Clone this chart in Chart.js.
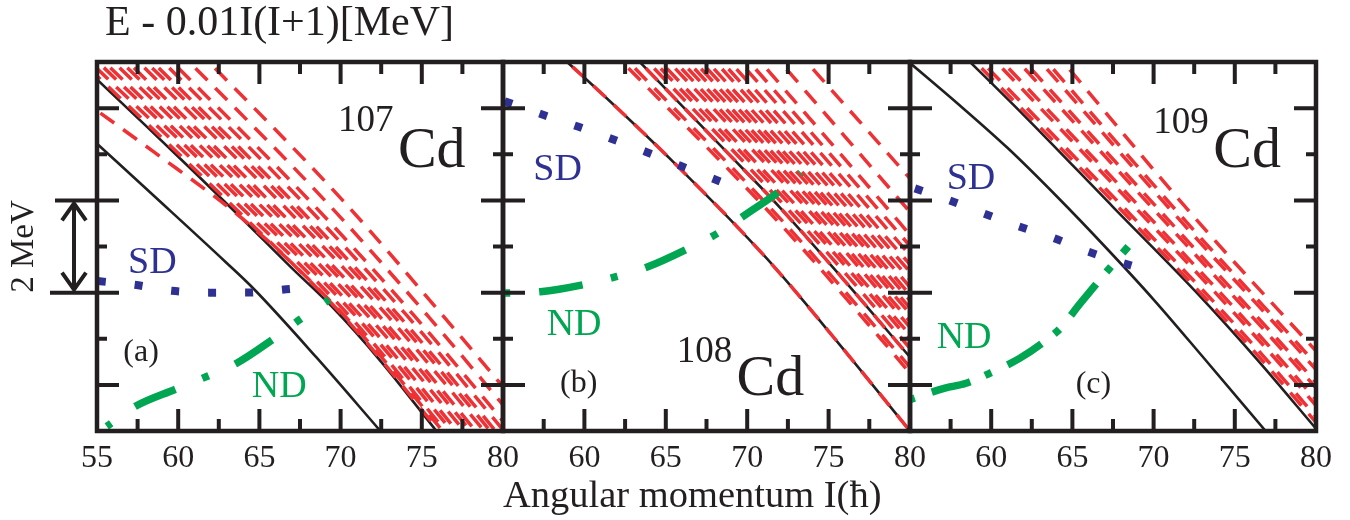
<!DOCTYPE html>
<html><head><meta charset="utf-8">
<script src="https://cdn.jsdelivr.net/npm/chart.js@4.4.1/dist/chart.umd.min.js"></script>
<style>
html,body{margin:0;padding:0;background:#fff;}
#wrap{position:relative;width:1350px;height:520px;overflow:hidden;background:#fff;}
#wrap canvas{position:absolute;left:0;top:0;}
</style></head><body>
<div id="wrap">
<canvas id="cA" width="1350" height="520"></canvas>
<canvas id="cB" width="1350" height="520"></canvas>
<canvas id="cC" width="1350" height="520"></canvas>
</div>
<script>
// ---------- tick values ----------
const ticksI = [55, 60, 65, 70, 75, 80];
const tickMarksI = [57.5, 60, 62.5, 65, 67.5, 70, 72.5, 75, 77.5];
const tickMarksE = [1, 2, 3, 4, 5, 6, 7];
const xTitle = 'Angular momentum I(ħ)';
const yTitle = 'E - 0.01I(I+1)[MeV]';
const scaleNote = '2 MeV';

// ---------- panel (a) 107Cd ----------
const blackA1 = [[55,6.23],[58.5,5.1],[62.9,3.67],[64.6,3.1],[68.5,1.6],[72.45,0]];
const blackA2 = [[55,7.62],[58,6.62],[61,5.61],[64,4.58],[67,3.53],[69.45,2.7],[72.5,1.5],[75.9,0]];
const redA = [
  [[53.2,8.3],[63.0,5.0],[70.15,2.5],[76.77,-0.3]],
  [[53.69,8.3],[63.44,5.0],[70.53,2.5],[77.16,-0.3]],
  [[54.18,8.3],[63.88,5.0],[70.91,2.5],[77.55,-0.3]],
  [[54.58,8.3],[64.25,5.0],[71.23,2.5],[77.87,-0.3]],
  [[55.15,8.3],[64.76,5.0],[71.67,2.5],[78.32,-0.3]],
  [[55.63,8.3],[65.21,5.0],[72.06,2.5],[78.71,-0.3]],
  [[56.04,8.3],[65.57,5.0],[72.37,2.5],[79.03,-0.3]],
  [[56.69,8.3],[66.16,5.0],[72.88,2.5],[79.55,-0.3]],
  [[57.17,8.3],[66.6,5.0],[73.26,2.5],[79.93,-0.3]],
  [[57.58,8.3],[66.97,5.0],[73.58,2.5],[80.26,-0.3]],
  [[58.23,8.3],[67.56,5.0],[74.09,2.5],[80.77,-0.3]],
  [[58.79,8.3],[68.07,5.0],[74.53,2.5],[81.22,-0.3]],
  [[59.85,8.3],[69.03,5.0],[75.36,2.5],[82.06,-0.3]],
  [[61.06,8.3],[70.13,5.0],[76.3,2.5],[83.0,-0.3]],
  [[49.6,8.3],[58.5,6.05],[64.3,4.5],[70.5,2.4],[77.0,-0.3]]
];
const sdA = [[55.05,3.25],[57.3,3.17],[59.6,3.04],[61.9,3.0],[64.1,3.0],[66.9,3.08]];
const ndA = [[55.6,0.1],[57.34,0.53],[59.8,0.9],[61.75,1.18],[63.6,1.47],[65.76,1.97],[67.5,2.42],[69.3,2.85]];

// ---------- panel (b) 108Cd ----------
const blackB1 = [[58.0,8.3],[60.96,7.35],[65.67,5.76],[71.2,3.74],[75.5,1.95],[80,0]];
const blackB2 = [[62.58,8.3],[66.0,7.05],[68.6,6.1],[72.0,4.85],[76.0,3.25],[80,1.6]];
const redB = [
  [[61.5,8.3],[72.0,4.5],[78.2,2.0],[83.7,-0.3]],
  [[61.9,8.3],[72.3,4.5],[78.5,2.0],[84.0,-0.3]],
  [[63.1,8.3],[73.3,4.5],[79.5,2.0],[85.0,-0.3]],
  [[63.5,8.3],[73.7,4.5],[79.9,2.0],[85.4,-0.3]],
  [[63.9,8.3],[74.0,4.5],[80.2,2.0],[85.7,-0.3]],
  [[64.4,8.3],[74.5,4.5],[80.6,2.0],[86.1,-0.3]],
  [[64.8,8.3],[74.8,4.5],[80.9,2.0],[86.4,-0.3]],
  [[65.2,8.3],[75.2,4.5],[81.3,2.0],[86.8,-0.3]],
  [[65.6,8.3],[75.5,4.5],[81.6,2.0],[87.1,-0.3]],
  [[66.0,8.3],[75.9,4.5],[82.0,2.0],[87.5,-0.3]],
  [[66.4,8.3],[76.2,4.5],[82.3,2.0],[87.8,-0.3]],
  [[66.8,8.3],[76.6,4.5],[82.7,2.0],[88.2,-0.3]],
  [[67.3,8.3],[77.0,4.5],[83.1,2.0],[88.6,-0.3]],
  [[67.7,8.3],[77.4,4.5],[83.5,2.0],[89.0,-0.3]],
  [[68.2,8.3],[77.8,4.5],[83.9,2.0],[89.4,-0.3]],
  [[68.8,8.3],[78.3,4.5],[84.4,2.0],[89.9,-0.3]],
  [[69.4,8.3],[78.8,4.5],[84.9,2.0],[90.4,-0.3]],
  [[70.1,8.3],[79.4,4.5],[85.4,2.0],[91.0,-0.3]],
  [[71.3,8.3],[80.6,4.5],[86.6,2.0],[92.0,-0.3]],
  [[72.9,8.3],[82.4,4.5],[88.35,2.0],[93.7,-0.3]]
];
const sdB = [[55.1,7.15],[57.5,6.85],[59.6,6.6],[61.7,6.33],[63.8,6.05],[65.9,5.75],[68.4,5.4]];
const ndB = [[55.0,2.99],[57.3,3.02],[59.9,3.17],[62.0,3.35],[63.9,3.56],[66.4,3.96],[68.2,4.29],[69.9,4.69],[72.1,5.23],[73.3,5.6]];

// ---------- panel (c) 109Cd ----------
const blackC1 = [[55,7.98],[58,7.08],[61,6.14],[64,5.1],[67,4.0],[70,2.85],[73,1.62],[76.9,0]];
const blackC2 = [[57.83,8.3],[62.0,6.85],[67.52,4.85],[72.65,3.0],[76.5,1.5],[80,0.05]];
const redC = [
  [[58.2,8.3],[68.8,4.5],[75.5,2.0],[81.2,-0.3]],
  [[58.6,8.3],[69.1,4.5],[75.8,2.0],[81.5,-0.3]],
  [[59.5,8.3],[69.8,4.5],[76.4,2.0],[82.1,-0.3]],
  [[59.9,8.3],[70.1,4.5],[76.7,2.0],[82.4,-0.3]],
  [[60.9,8.3],[70.8,4.5],[77.3,2.0],[83.1,-0.3]],
  [[61.3,8.3],[71.1,4.5],[77.6,2.0],[83.4,-0.3]],
  [[62.3,8.3],[71.8,4.5],[78.3,2.0],[84.1,-0.3]],
  [[62.7,8.3],[72.1,4.5],[78.6,2.0],[84.4,-0.3]],
  [[63.73,8.3],[72.84,4.5],[79.31,2.0],[85.28,-0.3]]
];
const sdC = [[55.3,5.26],[57.36,5.01],[59.5,4.72],[61.6,4.45],[63.72,4.2],[65.88,3.9],[68.04,3.65],[70.0,3.44]];
const ndC = [[55.0,0.68],[57.15,0.93],[58.4,1.03],[59.9,1.25],[61.77,1.58],[63.5,2.0],[64.24,2.22],[65.47,2.76],[67.2,3.49],[68.44,4.0]];

// ---------- styling ----------
const FONT = "'Liberation Serif','Times New Roman',serif";
const INK = '#231F20', RED = '#EE3135', BLUE = '#2E3192', GREEN = '#00A651';

function xy(arr){ return arr.map(p => ({x:p[0], y:p[1]})); }
function ds(points, style){
  return Object.assign({data: xy(points), pointRadius:0, pointHoverRadius:0, fill:false, clip:0,
    cubicInterpolationMode:'monotone', borderCapStyle:'butt', borderJoinStyle:'round'}, style);
}
const blackStyle = {borderColor: INK, borderWidth: 2.6};
const redStyle = {borderColor: RED, borderWidth: 3.5, borderDash: [17, 11]};
const sdStyle = {borderColor: BLUE, borderWidth: 8, borderDash: [8, 29]};

const frameTicks = {
  id: 'frameTicks',
  afterDatasetsDraw(chart){
    const {ctx, chartArea: a, scales: {x, y}} = chart;
    ctx.save();
    ctx.strokeStyle = INK; ctx.lineWidth = 4; ctx.lineCap = 'butt';
    ctx.beginPath();
    for (const v of tickMarksI){
      const px = x.getPixelForValue(v); const len = (v % 5 === 0) ? 22 : 12;
      ctx.moveTo(px, a.bottom); ctx.lineTo(px, a.bottom - len);
      ctx.moveTo(px, a.top); ctx.lineTo(px, a.top + len);
    }
    for (const v of tickMarksE){
      const py = y.getPixelForValue(v); const len = (v % 2 === 1) ? 22 : 10;
      ctx.moveTo(a.left, py); ctx.lineTo(a.left + len, py);
      ctx.moveTo(a.right, py); ctx.lineTo(a.right - len, py);
    }
    ctx.stroke();
    ctx.lineWidth = 4.5;
    ctx.strokeRect(a.left, a.top, a.right - a.left, a.bottom - a.top);
    ctx.restore();
  }
};

function annot(labels, extra){
  return {
    id: 'annot',
    afterDraw(chart){
      const {ctx, scales: {x, y}} = chart;
      ctx.save();
      ctx.textAlign = 'left'; ctx.textBaseline = 'alphabetic';
      for (const L of labels){
        ctx.font = L.size + 'px ' + FONT;
        ctx.fillStyle = L.color || INK;
        ctx.fillText(L.text, x.getPixelForValue(L.x), y.getPixelForValue(L.y));
      }
      if (extra) extra(chart);
      ctx.restore();
    }
  };
}

function leftNotes(chart){
  const {ctx, scales: {y}} = chart;
  const y5 = y.getPixelForValue(5), y3 = y.getPixelForValue(3);
  ctx.fillStyle = INK;
  ctx.font = '42px ' + FONT; ctx.textAlign = 'left'; ctx.textBaseline = 'alphabetic';
  ctx.fillText(yTitle, 105, 35);
  ctx.strokeStyle = INK; ctx.lineWidth = 4; ctx.lineCap = 'butt'; ctx.lineJoin = 'miter';
  ctx.beginPath();
  ctx.moveTo(55, y5); ctx.lineTo(98, y5);
  ctx.moveTo(50, y3); ctx.lineTo(98, y3);
  ctx.moveTo(74, y5 + 3); ctx.lineTo(74, y3 - 3);
  ctx.stroke();
  ctx.beginPath();
  ctx.moveTo(62, y5 + 20); ctx.lineTo(74, y5 + 3); ctx.lineTo(86, y5 + 20);
  ctx.moveTo(62, y3 - 20); ctx.lineTo(74, y3 - 3); ctx.lineTo(86, y3 - 20);
  ctx.stroke();
  ctx.save();
  ctx.translate(33, (y5 + y3) / 2); ctx.rotate(-Math.PI / 2);
  ctx.textAlign = 'center'; ctx.font = '33px ' + FONT;
  ctx.fillText(scaleNote, 0, 0);
  ctx.restore();
}

const panels = [
  {id:'cA', left:97, right:503, hide55:false, axisTitle:false,
   blacks:[blackA1, blackA2], overlays:[], reds:redA, sd:sdA, nd:ndA,
   ndDash:[44,29,7,29], ndOffset:74.5,
   labels:[{text:'107',x:69.84,y:6.51,size:37},{text:'Cd',x:73.53,y:5.73,size:58},
           {text:'SD',x:56.91,y:3.42,size:38,color:BLUE},{text:'ND',x:64.53,y:0.744,size:38,color:GREEN},
           {text:'(a)',x:56.62,y:1.52,size:32}], extra: leftNotes},
  {id:'cB', left:503, right:910, hide55:true, axisTitle:true,
   blacks:[blackB1, blackB2], overlays:[blackB1, blackB2], reds:redB, sd:sdB, nd:ndB,
   ndDash:[44,29,7,29], ndOffset:72.8,
   labels:[{text:'SD',x:56.86,y:5.44,size:38,color:BLUE},{text:'ND',x:57.68,y:2.08,size:38,color:GREEN},
           {text:'108',x:65.67,y:1.50,size:37},{text:'Cd',x:69.35,y:0.78,size:58},
           {text:'(b)',x:58.5,y:0.835,size:32}], extra:null},
  {id:'cC', left:910, right:1316, hide55:true, axisTitle:false,
   blacks:[blackC1, blackC2], overlays:[], reds:redC, sd:sdC, nd:ndC,
   ndDash:[40,16,7,18], ndOffset:58,
   labels:[{text:'109',x:69.98,y:6.46,size:37},{text:'Cd',x:73.68,y:5.73,size:58},
           {text:'SD',x:57.26,y:5.25,size:38,color:BLUE},{text:'ND',x:56.64,y:1.81,size:38,color:GREEN},
           {text:'(c)',x:65.2,y:0.83,size:32}], extra:null}
];

for (const P of panels){
  const datasets = [];
  datasets.push(ds(P.sd, sdStyle));
  datasets.push(ds(P.nd, {borderColor: GREEN, borderWidth: 7.5, borderDash: P.ndDash, borderDashOffset: P.ndOffset}));
  for (const o of P.overlays) datasets.push(ds(o, redStyle));
  for (const r of P.reds) datasets.push(ds(r, redStyle));
  for (const b of P.blacks) datasets.push(ds(b, blackStyle));
  new Chart(document.getElementById(P.id), {
    type: 'line',
    data: {datasets},
    options: {
      responsive: false, animation: false, events: [], devicePixelRatio: 1,
      layout: {padding: {left: P.left, right: 1350 - P.right, top: 62, bottom: 0}},
      plugins: {legend: {display: false}, tooltip: {enabled: false}},
      scales: {
        x: {type: 'linear', min: 55, max: 80,
            afterFit(s){ s.height = 89; },
            afterBuildTicks(s){ s.ticks = ticksI.map(v => ({value: v})); },
            grid: {display: false, drawTicks: false}, border: {display: false},
            ticks: {autoSkip: false, maxRotation: 0, minRotation: 0, padding: 8, color: INK,
                    font: {family: FONT, size: 32},
                    callback: (v) => (P.hide55 && v === 55) ? '' : String(v)},
            title: {display: P.axisTitle, text: xTitle, color: INK, align: 'start',
                    font: {family: FONT, size: 38.5}, padding: {top: 0, bottom: 0}}},
        y: {type: 'linear', min: 0, max: 8, display: false}
      }
    },
    plugins: [frameTicks, annot(P.labels, P.extra)]
  });
}
</script>
</body></html>
